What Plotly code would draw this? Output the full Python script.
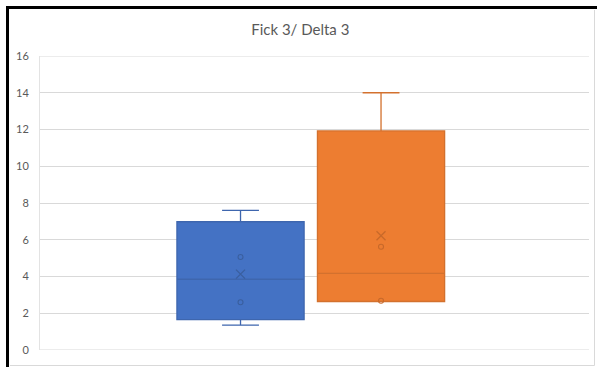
import plotly.graph_objects as go

# Summary statistics for the two series (box-and-whisker)
series_names = ["Fick 3", "Delta 3"]
q1_values = [1.65, 2.64]
median_values = [3.85, 4.17]
q3_values = [6.98, 11.92]
lower_whiskers = [1.35, 2.64]
upper_whiskers = [7.60, 14.00]
mean_values = [4.13, 6.22]
inner_points = [[2.60, 5.06], [2.68, 5.62]]

y_min, y_max, y_step = 0, 16, 2

fill_colors = ["#4472C4", "#ED7D31"]
line_colors = ["#3E66AE", "#D3712E"]
marker_colors = ["#3A5F9F", "#C8692A"]

W, H = 597, 367
L, R, T, B = 40, 8, 56, 17
positions = [0, 1]

fig = go.Figure()
for i, name in enumerate(series_names):
    fig.add_trace(go.Box(
        name=name,
        x=[positions[i]],
        q1=[q1_values[i]], median=[median_values[i]], q3=[q3_values[i]],
        lowerfence=[lower_whiskers[i]], upperfence=[upper_whiskers[i]],
        fillcolor=fill_colors[i],
        line=dict(color=line_colors[i], width=1.3),
        width=0.905,
        whiskerwidth=0.29,
        boxpoints=False,
        showlegend=False,
        hoverinfo="skip",
    ))
    # mean marker
    fig.add_trace(go.Scatter(
        x=[positions[i]], y=[mean_values[i]], mode="markers",
        marker=dict(symbol="x-thin-open", size=9, color=marker_colors[i],
                    line=dict(color=marker_colors[i], width=1.3)),
        showlegend=False, hoverinfo="skip",
    ))
    # inner points
    fig.add_trace(go.Scatter(
        x=[positions[i]] * len(inner_points[i]), y=inner_points[i], mode="markers",
        marker=dict(symbol="circle-open", size=5, color=marker_colors[i],
                    line=dict(color=marker_colors[i], width=1.1)),
        showlegend=False, hoverinfo="skip",
    ))


def px_x(p):
    return (p - L) / (W - L - R)


def px_y(p):
    return (H - B - p) / (H - T - B)


shapes = [
    # gridlines on the range boundaries
    dict(type="line", xref="paper", yref="y", x0=0, x1=1, y0=y_min, y1=y_min,
         layer="below", line=dict(color="#D9D9D9", width=1)),
    dict(type="line", xref="paper", yref="y", x0=0, x1=1, y0=y_max, y1=y_max,
         layer="below", line=dict(color="#D9D9D9", width=1)),
    # light chart border
    dict(type="line", xref="paper", yref="paper",
         x0=px_x(10), x1=px_x(594.5), y0=px_y(365.5), y1=px_y(365.5),
         line=dict(color="#D9D9D9", width=1)),
    dict(type="line", xref="paper", yref="paper",
         x0=px_x(594.5), x1=px_x(594.5), y0=px_y(10), y1=px_y(365.5),
         line=dict(color="#D9D9D9", width=1)),
    # dark frame
    dict(type="line", xref="paper", yref="paper",
         x0=px_x(6), x1=px_x(597), y0=px_y(7.5), y1=px_y(7.5),
         line=dict(color="#000000", width=3)),
    dict(type="line", xref="paper", yref="paper",
         x0=px_x(7.5), x1=px_x(7.5), y0=px_y(6), y1=px_y(367),
         line=dict(color="#000000", width=3)),
]

fig.update_layout(
    width=W, height=H,
    margin=dict(l=L, r=R, t=T, b=B),
    paper_bgcolor="white", plot_bgcolor="white",
    font=dict(family="Lato, Open Sans, sans-serif", color="#595959"),
    title=dict(text="Fick 3/ Delta 3", xref="container", x=0.503,
               y=1 - 30 / H, xanchor="center", yanchor="middle",
               font=dict(size=15, color="#595959")),
    xaxis=dict(range=[-1.427, 2.48], showticklabels=False, showgrid=False,
               zeroline=False, showline=False, fixedrange=True),
    yaxis=dict(range=[y_min, y_max], tick0=y_min, dtick=y_step, showgrid=True,
               gridcolor="#D9D9D9", gridwidth=1, zeroline=False,
               showline=True, linecolor="#E3E3E3", linewidth=1,
               tickfont=dict(size=11, color="#595959"),
               ticklabelstandoff=8, fixedrange=True),
    shapes=shapes,
    showlegend=False,
)

fig.write_html("out.html")
